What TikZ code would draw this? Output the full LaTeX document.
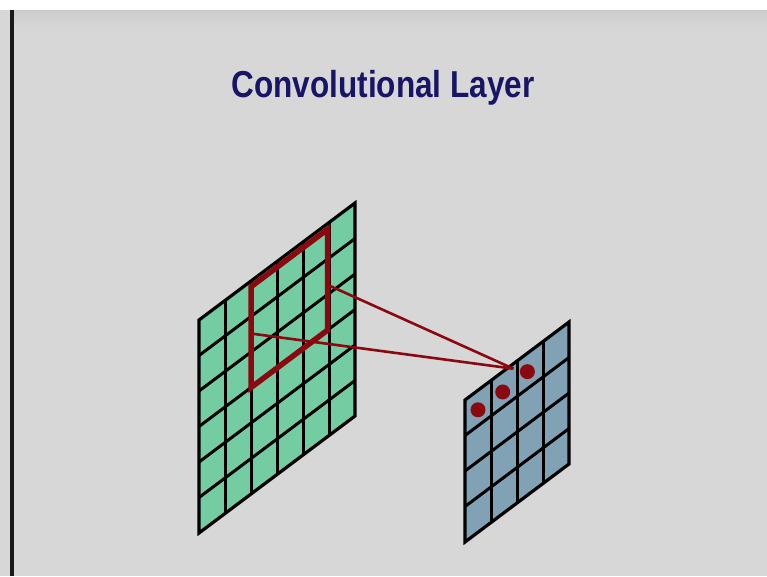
\documentclass[tikz,border=0pt]{standalone}
\usepackage{fontspec}
\setmainfont{Liberation Sans}

\definecolor{slidegray}{RGB}{215,215,215}
\definecolor{titleblue}{RGB}{24,20,102}
\definecolor{inputgreen}{RGB}{116,204,163}
\definecolor{outputblue}{RGB}{128,162,180}
\definecolor{kernelred}{RGB}{140,8,16}

\begin{document}
\begin{tikzpicture}[x=1pt,y=-1pt,
  cellline/.style={line width=3pt},
  border/.style={line width=3.2pt,line join=miter},
  window/.style={draw=kernelred,line width=5.5pt,line join=miter},
  link/.style={kernelred,line width=2.6pt},
  unit/.style={circle,fill=kernelred,inner sep=0pt,minimum size=15pt}]
\useasboundingbox (0,0) rectangle (767,576);
\fill[slidegray] (0,10) rectangle (767,576);
\shade[top color=black!20,bottom color=slidegray] (14,10) rectangle (767,28);
\fill[black!90] (10,10) rectangle (14,576);

\node[anchor=base,font=\fontsize{37.5}{40}\selectfont\bfseries,text=titleblue,xscale=0.84]
  (title) at (383,97) {Convolutional Layer};

\begin{scope}[shift={(199,320)},x={(26pt,19.5pt)},y={(0pt,-35.5pt)}]
  \fill[inputgreen] (0,0) -- (6,0) -- (6,6) -- (0,6) -- cycle;
  \foreach \k in {1,...,5} {
    \draw[cellline] (\k,0) -- (\k,6);
    \draw[cellline] (0,\k) -- (6,\k);
  }
  \draw[border] (0,0) -- (6,0) -- (6,6) -- (0,6) -- cycle;
  \draw[window] (2,0.16) -- (4.95,0.16) -- (4.95,3) -- (2,3) -- cycle;
  \coordinate (winL) at (2,1.48);
  \coordinate (winR) at (4.95,1.73);
\end{scope}

\begin{scope}[shift={(465,400)},x={(26pt,19.5pt)},y={(0pt,-35.5pt)}]
  \fill[outputblue] (0,0) -- (4,0) -- (4,4) -- (0,4) -- cycle;
  \foreach \k in {1,...,3} {
    \draw[cellline] (\k,0) -- (\k,4);
    \draw[cellline] (0,\k) -- (4,\k);
  }
  \draw[border] (0,0) -- (4,0) -- (4,4) -- (0,4) -- cycle;
  \node[unit] (unitA) at (0.5,0.55) {};
  \node[unit] (unitB) at (1.45,0.57) {};
  \node[unit] (unitC) at (2.4,0.52) {};
  \coordinate (focus) at (1.86,0.14);
\end{scope}

\draw[link] (winR) -- (focus);
\draw[link] (winL) -- (focus);
\end{tikzpicture}
\end{document}
